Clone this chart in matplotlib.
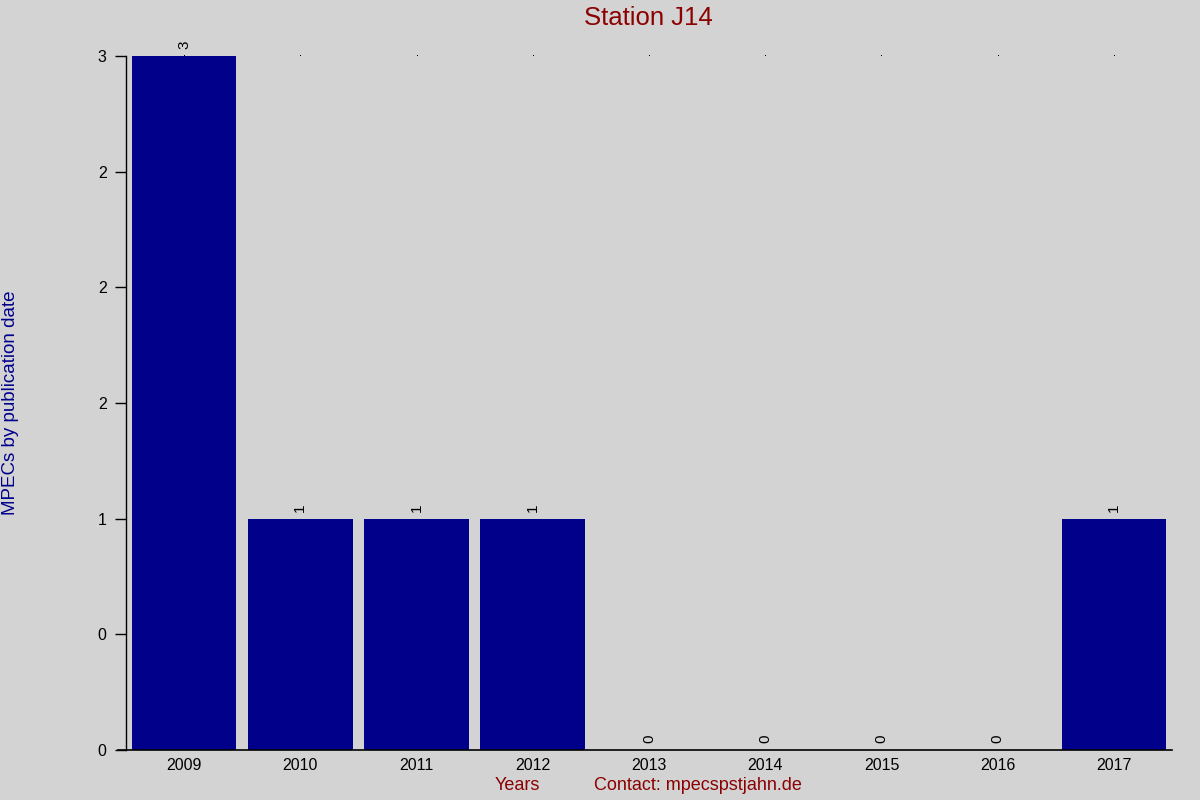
import matplotlib
matplotlib.use("Agg")
import matplotlib.pyplot as plt
from matplotlib.lines import Line2D

plt.rcParams['font.family'] = ['Liberation Sans', 'DejaVu Sans']

years = ["2009", "2010", "2011", "2012", "2013", "2014", "2015", "2016", "2017"]
counts = [3, 1, 1, 1, 0, 0, 0, 0, 1]
ytick_vals = [0, 0.5, 1, 1.5, 2, 2.5, 3]
ytick_labels = ["0", "0", "1", "2", "2", "2", "3"]

bg = "#D3D3D3"
bar_col = "#00008B"
red = "#8B0000"

fig = plt.figure(figsize=(12, 8), dpi=100, facecolor=bg)
ax = fig.add_axes([126/1200, 1-750/800, (1172-126)/1200, (750-56)/800], facecolor=bg)

x = list(range(len(years)))
ax.bar(x, counts, width=0.9, color=bar_col, zorder=2)
ax.set_xlim(-0.5, len(years) - 0.5)
ax.set_ylim(0, max(counts))

# tiny dots at top
ax.plot(x, [max(counts)] * len(x), linestyle='none', marker=',',
        color='black', clip_on=False, zorder=1)

for xi, v in zip(x, counts):
    ax.annotate(str(v), (xi, v), xytext=(0, 5), textcoords='offset points',
                rotation=90, ha='center', va='bottom', fontsize=11,
                color='black', annotation_clip=False)

ax.set_xticks(x)
ax.set_xticklabels(years, fontsize=11.5)
ax.set_yticks(ytick_vals)
ax.set_yticklabels(ytick_labels, fontsize=11.5)
ax.tick_params(axis='x', length=0, pad=6)
ax.tick_params(axis='y', length=8, width=1, direction='out', pad=6)

for s in ['top', 'right', 'bottom']:
    ax.spines[s].set_visible(False)
ax.spines['left'].set_linewidth(1)
ax.add_line(Line2D([-8/1046, 1], [0, 0], transform=ax.transAxes, color='black',
                   lw=1.2, clip_on=False))

fig.text(648/1200, 1-18/800, "Station J14", color=red, fontsize=18.5,
         ha='center', va='center')
fig.text(517/1200, 1-786/800, "Years", color=red, fontsize=13,
         ha='center', va='center')
fig.text(698/1200, 1-786/800, "Contact: mpecspstjahn.de", color=red, fontsize=13,
         ha='center', va='center')
fig.text(11/1200, 1-403/800, "MPECs by publication date", color=bar_col,
         fontsize=13.5, rotation=90, ha='center', va='center')

fig.savefig("out.png", dpi=100, facecolor=bg)
